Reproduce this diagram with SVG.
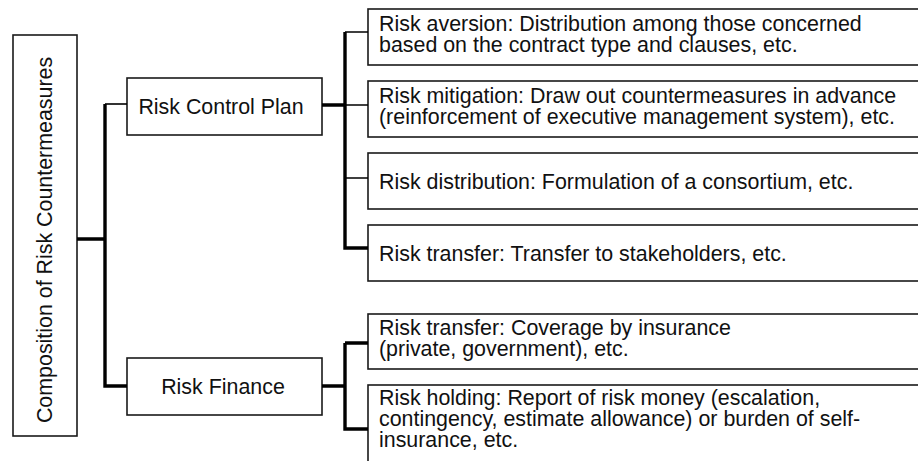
<svg xmlns="http://www.w3.org/2000/svg" width="918" height="461" viewBox="0 0 918 461">
<style>
.box{fill:#fff;stroke:#1a1a1a;stroke-width:1.6}
.t{font-family:"Liberation Sans",Arial,sans-serif;font-size:21.4px;fill:#111}
.thin{stroke:#000;stroke-width:1.6;fill:none}
.thick{stroke:#000;stroke-width:3.4;fill:none}
</style>
<rect width="918" height="461" fill="#fff"/>
<g id="root">
<rect class="box" x="13" y="35" width="64" height="401"/>
<text class="t" transform="translate(52,240) rotate(-90)" text-anchor="middle">Composition of Risk Countermeasures</text>
</g>
<g id="rcp">
<rect class="box" x="127" y="78" width="195" height="57"/>
<text class="t" x="221" y="114" text-anchor="middle">Risk Control Plan</text>
</g>
<g id="rf">
<rect class="box" x="127" y="358" width="195" height="57"/>
<text class="t" x="223" y="394" text-anchor="middle">Risk Finance</text>
</g>
<g id="aversion">
<rect class="box" x="368" y="9" width="600" height="56"/>
<text class="t" x="379" y="31">Risk aversion: Distribution among those concerned</text>
<text class="t" x="379" y="52">based on the contract type and clauses, etc.</text>
</g>
<g id="mitigation">
<rect class="box" x="368" y="81" width="600" height="56"/>
<text class="t" x="379" y="103">Risk mitigation: Draw out countermeasures in advance</text>
<text class="t" x="379" y="124">(reinforcement of executive management system), etc.</text>
</g>
<g id="distribution">
<rect class="box" x="368" y="153" width="600" height="56"/>
<text class="t" x="379" y="189">Risk distribution: Formulation of a consortium, etc.</text>
</g>
<g id="transfer1">
<rect class="box" x="368" y="225" width="600" height="56"/>
<text class="t" x="379" y="261">Risk transfer: Transfer to stakeholders, etc.</text>
</g>
<g id="transfer2">
<rect class="box" x="368" y="314" width="600" height="55"/>
<text class="t" x="379" y="335">Risk transfer: Coverage by insurance</text>
<text class="t" x="379" y="356">(private, government), etc.</text>
</g>
<g id="holding">
<rect class="box" x="368" y="385" width="600" height="100"/>
<text class="t" x="379" y="405">Risk holding: Report of risk money (escalation,</text>
<text class="t" x="379" y="426">contingency, estimate allowance) or burden of self-</text>
<text class="t" x="379" y="447">insurance, etc.</text>
</g>
<g id="connectors">
<path class="thick" d="M77,239H105M105,104V386H127"/>
<path class="thin" d="M105,104H127"/>
<path class="thick" d="M322,105H345M345,32V248H368"/>
<path class="thin" d="M345,32H368M345,105H368M345,178H368"/>
<path class="thick" d="M322,386H345M345,343V429H368M345,343H368"/>
</g>
</svg>
